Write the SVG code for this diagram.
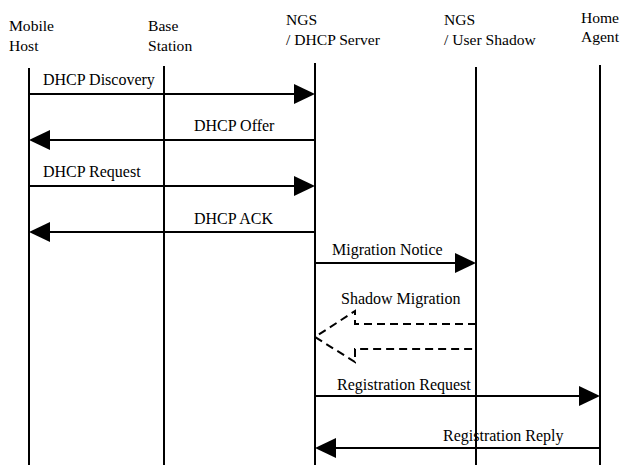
<svg xmlns="http://www.w3.org/2000/svg" width="621" height="465" viewBox="0 0 621 465">
<style>
text{font-family:"Liberation Serif","Times New Roman",serif;font-size:15.6px;fill:#000}
.lbl{font-size:16px}
.life{stroke:#000;stroke-width:2;fill:none}
.msg{stroke:#000;stroke-width:2;fill:none}
.head{fill:#000;stroke:none}
.dash{stroke:#000;stroke-width:2;fill:none;stroke-dasharray:8,5}
</style>
<rect width="621" height="465" fill="#fff"/>
<g id="mobile-host">
<text x="9" y="31">Mobile</text><text x="9" y="51">Host</text>
<line class="life" x1="29" y1="68" x2="29" y2="465"/>
</g>
<g id="base-station">
<text x="148" y="31">Base</text><text x="148" y="51">Station</text>
<line class="life" x1="164" y1="66" x2="164" y2="465"/>
</g>
<g id="ngs-dhcp">
<text x="286" y="25">NGS</text><text x="286" y="45">/ DHCP Server</text>
<line class="life" x1="315" y1="63" x2="315" y2="465"/>
</g>
<g id="ngs-shadow">
<text x="444" y="25">NGS</text><text x="444" y="45">/ User Shadow</text>
<line class="life" x1="476" y1="67" x2="476" y2="465"/>
</g>
<g id="home-agent">
<text x="619" y="23" text-anchor="end">Home</text><text x="619" y="42" text-anchor="end">Agent</text>
<line class="life" x1="600" y1="65" x2="600" y2="465"/>
</g>
<g id="connectors">
<line class="msg" x1="29" y1="94" x2="296" y2="94"/><polygon class="head" points="315,94 294,84 294,104"/>
<text class="lbl" x="43" y="85">DHCP Discovery</text>
<line class="msg" x1="315" y1="140" x2="48" y2="140"/><polygon class="head" points="29,140 50,130 50,150"/>
<text class="lbl" x="194" y="131">DHCP Offer</text>
<line class="msg" x1="29" y1="186" x2="296" y2="186"/><polygon class="head" points="315,186 294,176 294,196"/>
<text class="lbl" x="43" y="177">DHCP Request</text>
<line class="msg" x1="315" y1="232" x2="48" y2="232"/><polygon class="head" points="29,232 50,222 50,242"/>
<text class="lbl" x="194" y="224">DHCP ACK</text>
<line class="msg" x1="315" y1="263" x2="457" y2="263"/><polygon class="head" points="476,263 455,253 455,273"/>
<text class="lbl" x="332" y="255">Migration Notice</text>
<text class="lbl" x="341" y="304">Shadow Migration</text>
<polyline class="dash" points="476,324 355,324 355,311 315,337 355,362 355,349 476,349"/>
<line class="msg" x1="315" y1="396" x2="581" y2="396"/><polygon class="head" points="600,396 579,386 579,406"/>
<text class="lbl" x="337" y="390">Registration Request</text>
<line class="msg" x1="600" y1="448" x2="334" y2="448"/><polygon class="head" points="315,448 336,438 336,458"/>
<text class="lbl" x="443" y="441">Registration Reply</text>
</g>
</svg>
